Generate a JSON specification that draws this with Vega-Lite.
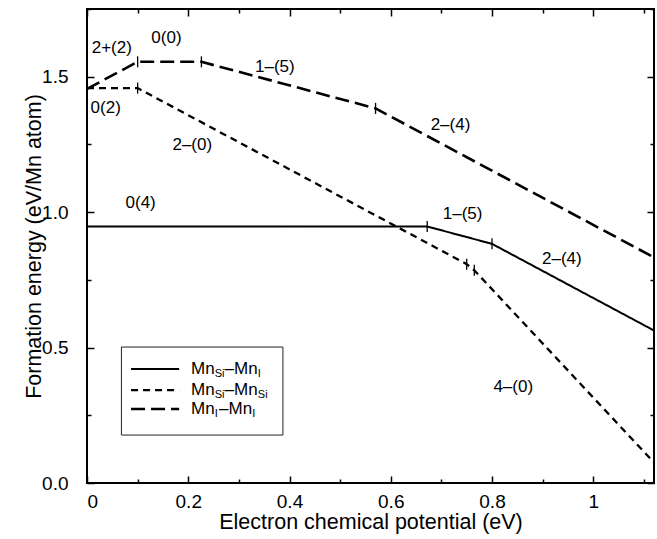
{
  "$schema": "https://vega.github.io/schema/vega-lite/v6.json",
  "width": 567,
  "height": 474,
  "autosize": "none",
  "padding": {"left": 87, "top": 9, "right": 3, "bottom": 56},
  "background": "white",
  "config": {
    "view": {"stroke": "black", "strokeWidth": 2},
    "font": "Liberation Sans",
    "axis": {
      "domain": false,
      "grid": false,
      "labelFont": "Liberation Sans",
      "titleFont": "Liberation Sans",
      "labelFontSize": 19,
      "titleFontSize": 21.5,
      "titleFontWeight": "normal",
      "labelColor": "black",
      "titleColor": "black",
      "tickColor": "black",
      "tickWidth": 1.5
    }
  },
  "datasets": {
    "lines": [
      {"series": "MnSi-MnI", "x": 0, "y": 0.947},
      {"series": "MnSi-MnI", "x": 0.672, "y": 0.947},
      {"series": "MnSi-MnI", "x": 0.8, "y": 0.883},
      {"series": "MnSi-MnI", "x": 1.12, "y": 0.563},
      {"series": "MnSi-MnSi", "x": 0, "y": 1.458},
      {"series": "MnSi-MnSi", "x": 0.1, "y": 1.458},
      {"series": "MnSi-MnSi", "x": 0.75, "y": 0.808},
      {"series": "MnSi-MnSi", "x": 0.765, "y": 0.7855},
      {"series": "MnSi-MnSi", "x": 1.12, "y": 0.0755},
      {"series": "MnI-MnI", "x": 0, "y": 1.455},
      {"series": "MnI-MnI", "x": 0.1, "y": 1.555},
      {"series": "MnI-MnI", "x": 0.226, "y": 1.555},
      {"series": "MnI-MnI", "x": 0.57, "y": 1.383},
      {"series": "MnI-MnI", "x": 1.12, "y": 0.833}
    ],
    "kinks": [
      {"series": "MnSi-MnI", "x": 0.672, "y": 0.947},
      {"series": "MnSi-MnI", "x": 0.8, "y": 0.883},
      {"series": "MnSi-MnSi", "x": 0.1, "y": 1.458},
      {"series": "MnSi-MnSi", "x": 0.75, "y": 0.808},
      {"series": "MnSi-MnSi", "x": 0.765, "y": 0.7855},
      {"series": "MnI-MnI", "x": 0.1, "y": 1.555},
      {"series": "MnI-MnI", "x": 0.226, "y": 1.555},
      {"series": "MnI-MnI", "x": 0.57, "y": 1.383}
    ],
    "labels": [
      {"x": 0.049, "y": 1.607, "text": "2+(2)"},
      {"x": 0.157, "y": 1.644, "text": "0(0)"},
      {"x": 0.371, "y": 1.537, "text": "1–(5)"},
      {"x": 0.037, "y": 1.385, "text": "0(2)"},
      {"x": 0.208, "y": 1.249, "text": "2–(0)"},
      {"x": 0.718, "y": 1.322, "text": "2–(4)"},
      {"x": 0.106, "y": 1.034, "text": "0(4)"},
      {"x": 0.742, "y": 0.994, "text": "1–(5)"},
      {"x": 0.938, "y": 0.827, "text": "2–(4)"},
      {"x": 0.842, "y": 0.355, "text": "4–(0)"}
    ],
    "legendBox": [{"x1": 0.068, "x2": 0.387, "y1": 0.177, "y2": 0.502}],
    "legendRows": [
      {"series": "MnSi-MnI", "x1": 0.087, "x2": 0.182, "tx": 0.2055, "y": 0.421, "sub1": "Si", "sub2": "I"},
      {"series": "MnSi-MnSi", "x1": 0.087, "x2": 0.182, "tx": 0.2055, "y": 0.343, "sub1": "Si", "sub2": "Si"},
      {"series": "MnI-MnI", "x1": 0.087, "x2": 0.182, "tx": 0.2055, "y": 0.273, "sub1": "I", "sub2": "I"}
    ]
  },
  "layer": [
    {
      "layer": [
        {
          "data": {"name": "lines"},
          "mark": {"type": "line", "color": "black", "strokeCap": "butt"},
          "encoding": {
            "x": {
              "field": "x", "type": "quantitative",
              "scale": {"domain": [0, 1.12], "nice": false, "zero": false},
              "axis": {
                "orient": "bottom",
                "values": [0, 0.2, 0.4, 0.6, 0.8, 1.0],
                "format": "~g",
                "offset": -7,
                "tickSize": 7,
                "labelPadding": 9,
                "title": "Electron chemical potential (eV)",
                "titlePadding": 0
              }
            },
            "y": {
              "field": "y", "type": "quantitative",
              "scale": {"domain": [0, 1.75], "nice": false, "zero": false},
              "axis": {
                "orient": "left",
                "values": [0, 0.5, 1.0, 1.5],
                "format": ".1f",
                "offset": -7,
                "tickSize": 7,
                "labelPadding": 19,
                "title": "Formation energy (eV/Mn atom)",
                "titlePadding": -4
              }
            },
            "detail": {"field": "series"},
            "strokeDash": {
              "field": "series", "type": "nominal",
              "scale": {"domain": ["MnSi-MnI", "MnSi-MnSi", "MnI-MnI"], "range": [[1, 0], [7, 5], [14, 6]]},
              "legend": null
            },
            "strokeWidth": {
              "field": "series", "type": "nominal",
              "scale": {"domain": ["MnSi-MnI", "MnSi-MnSi", "MnI-MnI"], "range": [2, 2.6, 2.6]},
              "legend": null
            }
          }
        },
        {
          "data": {"name": "kinks"},
          "mark": {"type": "point", "shape": "M0,-1L0,1", "size": 121, "filled": false, "color": "black", "strokeWidth": 1.3, "opacity": 1},
          "encoding": {
            "x": {"field": "x", "type": "quantitative"},
            "y": {"field": "y", "type": "quantitative"}
          }
        },
        {
          "data": {"name": "labels"},
          "mark": {"type": "text", "fontSize": 17, "align": "center", "baseline": "middle", "color": "black"},
          "encoding": {
            "x": {"field": "x", "type": "quantitative"},
            "y": {"field": "y", "type": "quantitative"},
            "text": {"field": "text"}
          }
        },
        {
          "data": {"name": "legendBox"},
          "mark": {"type": "rect", "fill": "white", "stroke": "#222", "strokeWidth": 1},
          "encoding": {
            "x": {"field": "x1", "type": "quantitative"},
            "x2": {"field": "x2"},
            "y": {"field": "y1", "type": "quantitative"},
            "y2": {"field": "y2"}
          }
        },
        {
          "data": {"name": "legendRows"},
          "mark": {"type": "rule", "color": "black", "strokeCap": "butt"},
          "encoding": {
            "x": {"field": "x1", "type": "quantitative"},
            "x2": {"field": "x2"},
            "y": {"field": "y", "type": "quantitative"},
            "strokeDash": {"field": "series", "type": "nominal", "legend": null},
            "strokeWidth": {"field": "series", "type": "nominal", "legend": null}
          }
        },
        {
          "data": {"name": "legendRows"},
          "mark": {"type": "text", "text": "Mn", "fontSize": 17, "align": "left", "baseline": "middle", "color": "black"},
          "encoding": {
            "x": {"field": "tx", "type": "quantitative"},
            "y": {"field": "y", "type": "quantitative"}
          }
        },
        {
          "data": {"name": "legendRows"},
          "mark": {"type": "text", "fontSize": 11, "align": "left", "baseline": "middle", "dx": 23.6, "dy": 5, "color": "black"},
          "encoding": {
            "x": {"field": "tx", "type": "quantitative"},
            "y": {"field": "y", "type": "quantitative"},
            "text": {"field": "sub1"}
          }
        },
        {
          "data": {"name": "legendRows"},
          "transform": [{"filter": "datum.sub1 == 'Si'"}],
          "mark": {"type": "text", "text": "–Mn", "fontSize": 17, "align": "left", "baseline": "middle", "dx": 33.5, "color": "black"},
          "encoding": {
            "x": {"field": "tx", "type": "quantitative"},
            "y": {"field": "y", "type": "quantitative"}
          }
        },
        {
          "data": {"name": "legendRows"},
          "transform": [{"filter": "datum.sub1 == 'I'"}],
          "mark": {"type": "text", "text": "–Mn", "fontSize": 17, "align": "left", "baseline": "middle", "dx": 28, "color": "black"},
          "encoding": {
            "x": {"field": "tx", "type": "quantitative"},
            "y": {"field": "y", "type": "quantitative"}
          }
        },
        {
          "data": {"name": "legendRows"},
          "transform": [{"filter": "datum.sub1 == 'Si'"}],
          "mark": {"type": "text", "fontSize": 11, "align": "left", "baseline": "middle", "dx": 66.8, "dy": 5, "color": "black"},
          "encoding": {
            "x": {"field": "tx", "type": "quantitative"},
            "y": {"field": "y", "type": "quantitative"},
            "text": {"field": "sub2"}
          }
        },
        {
          "data": {"name": "legendRows"},
          "transform": [{"filter": "datum.sub1 == 'I'"}],
          "mark": {"type": "text", "fontSize": 11, "align": "left", "baseline": "middle", "dx": 61.3, "dy": 5, "color": "black"},
          "encoding": {
            "x": {"field": "tx", "type": "quantitative"},
            "y": {"field": "y", "type": "quantitative"},
            "text": {"field": "sub2"}
          }
        }
      ]
    },
    {
      "data": {"name": "lines"},
      "mark": {"type": "point", "opacity": 0},
      "encoding": {
        "x": {
          "field": "x", "type": "quantitative",
          "axis": {"orient": "top", "values": [0, 0.2, 0.4, 0.6, 0.8, 1.0], "labels": false, "title": null, "offset": -7, "tickSize": 7}
        },
        "y": {
          "field": "y", "type": "quantitative",
          "axis": {"orient": "right", "values": [0, 0.5, 1.0, 1.5], "labels": false, "title": null, "offset": -7, "tickSize": 7}
        }
      }
    },
    {
      "data": {"name": "lines"},
      "mark": {"type": "point", "opacity": 0},
      "encoding": {
        "x": {
          "field": "x", "type": "quantitative",
          "axis": {"orient": "bottom", "values": [0.1, 0.3, 0.5, 0.7, 0.9, 1.1], "labels": false, "title": null, "offset": -4, "tickSize": 4}
        },
        "y": {
          "field": "y", "type": "quantitative",
          "axis": {"orient": "left", "values": [0.25, 0.75, 1.25, 1.75], "labels": false, "title": null, "offset": -4, "tickSize": 4}
        }
      }
    },
    {
      "data": {"name": "lines"},
      "mark": {"type": "point", "opacity": 0},
      "encoding": {
        "x": {
          "field": "x", "type": "quantitative",
          "axis": {"orient": "top", "values": [0.1, 0.3, 0.5, 0.7, 0.9, 1.1], "labels": false, "title": null, "offset": -4, "tickSize": 4}
        },
        "y": {
          "field": "y", "type": "quantitative",
          "axis": {"orient": "right", "values": [0.25, 0.75, 1.25, 1.75], "labels": false, "title": null, "offset": -4, "tickSize": 4}
        }
      }
    }
  ],
  "resolve": {"axis": {"x": "independent", "y": "independent"}}
}
